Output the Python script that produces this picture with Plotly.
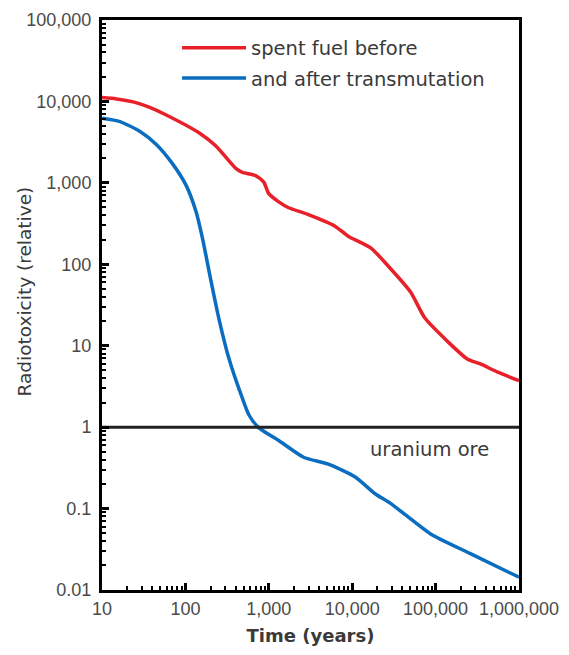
import plotly.graph_objects as go

# Red: spent fuel before transmutation
red_t = [10, 14.9, 23.6, 37.3, 58.9, 147, 232, 402, 481, 695, 871, 1000, 1316, 1730, 2990, 6280,
         8960, 16800, 26800, 50300, 74000, 139000, 240000, 344000, 547000, 1000000]
red_v = [11150, 10740, 9880, 8430, 6810, 4090, 2830, 1506, 1347, 1229, 1022, 737, 585, 495, 407,
         292, 221, 158, 96, 45.4, 22, 11.3, 6.86, 5.97, 4.78, 3.72]

# Blue: after transmutation
blue_t = [10, 16.4, 28.3, 44.8, 70.6, 102, 134, 161, 202, 254, 334, 464, 578, 760, 1316, 2610,
          5180, 10860, 18800, 29100, 87100, 261000, 1000000]
blue_v = [6210, 5660, 4300, 2960, 1698, 931, 444, 204, 63.4, 20.8, 6.86, 2.52, 1.41, 0.98, 0.684,
          0.427, 0.351, 0.244, 0.152, 0.115, 0.0488, 0.028, 0.01436]

ore_level = 1
x_range = [10, 1000000]

tick_family = "Liberation Sans, Arial, sans-serif"
text_family = "DejaVu Sans, Verdana, sans-serif"

fig = go.Figure()
fig.add_trace(go.Scatter(x=red_t, y=red_v, mode="lines", name="spent fuel before",
                         legendgroup="a",
                         line=dict(color="#e8202a", width=3.5, shape="spline", smoothing=0.6)))
fig.add_trace(go.Scatter(x=blue_t, y=blue_v, mode="lines", name="and after transmutation",
                         legendgroup="b",
                         line=dict(color="#0a6dbf", width=3.5, shape="spline", smoothing=0.6)))
fig.add_trace(go.Scatter(x=x_range, y=[ore_level, ore_level], mode="lines", showlegend=False,
                         line=dict(color="#222222", width=3), hoverinfo="skip"))

fig.add_annotation(x=4.93, y=-0.274, xref="x", yref="y", text="uranium ore", showarrow=False,
                   font=dict(size=19.5, color="#3a3a3a", family=text_family))

fig.add_annotation(x=-0.1857, y=0.523, xref="paper", yref="paper", text="Radiotoxicity (relative)",
                   textangle=-90, showarrow=False, xanchor="center", yanchor="middle",
                   font=dict(size=18.5, color="#3a3a3a", family=text_family))

axis_common = dict(
    type="log", showgrid=False, zeroline=False,
    showline=True, linecolor="black", linewidth=3, mirror=True,
    ticks="inside", ticklen=7, tickwidth=2.5, tickcolor="black",
    dtick=1, tickformat=",~r",
    tickfont=dict(size=18, color="#4a4a4a", family=tick_family),
    minor=dict(ticks="inside", ticklen=4, tickwidth=1.5, tickcolor="black", dtick="D1", showgrid=False),
)

fig.update_xaxes(range=[1, 6], **axis_common,
                 title=dict(text="<b>Time (years)</b>", standoff=12,
                            font=dict(size=18, color="#3a3a3a", family=text_family)))
fig.update_yaxes(range=[-2, 5], **axis_common, ticklabelstandoff=4)

fig.update_layout(
    width=569, height=655,
    margin=dict(l=102, r=47, t=10, b=65),
    paper_bgcolor="white", plot_bgcolor="white",
    showlegend=True,
    legend=dict(x=0.18, y=0.985, xanchor="left", yanchor="top", bgcolor="rgba(0,0,0,0)",
                itemwidth=64, tracegroupgap=2, traceorder="grouped",
                font=dict(size=19.5, color="#3a3a3a", family=text_family)),
)

fig.write_html("out.html")
